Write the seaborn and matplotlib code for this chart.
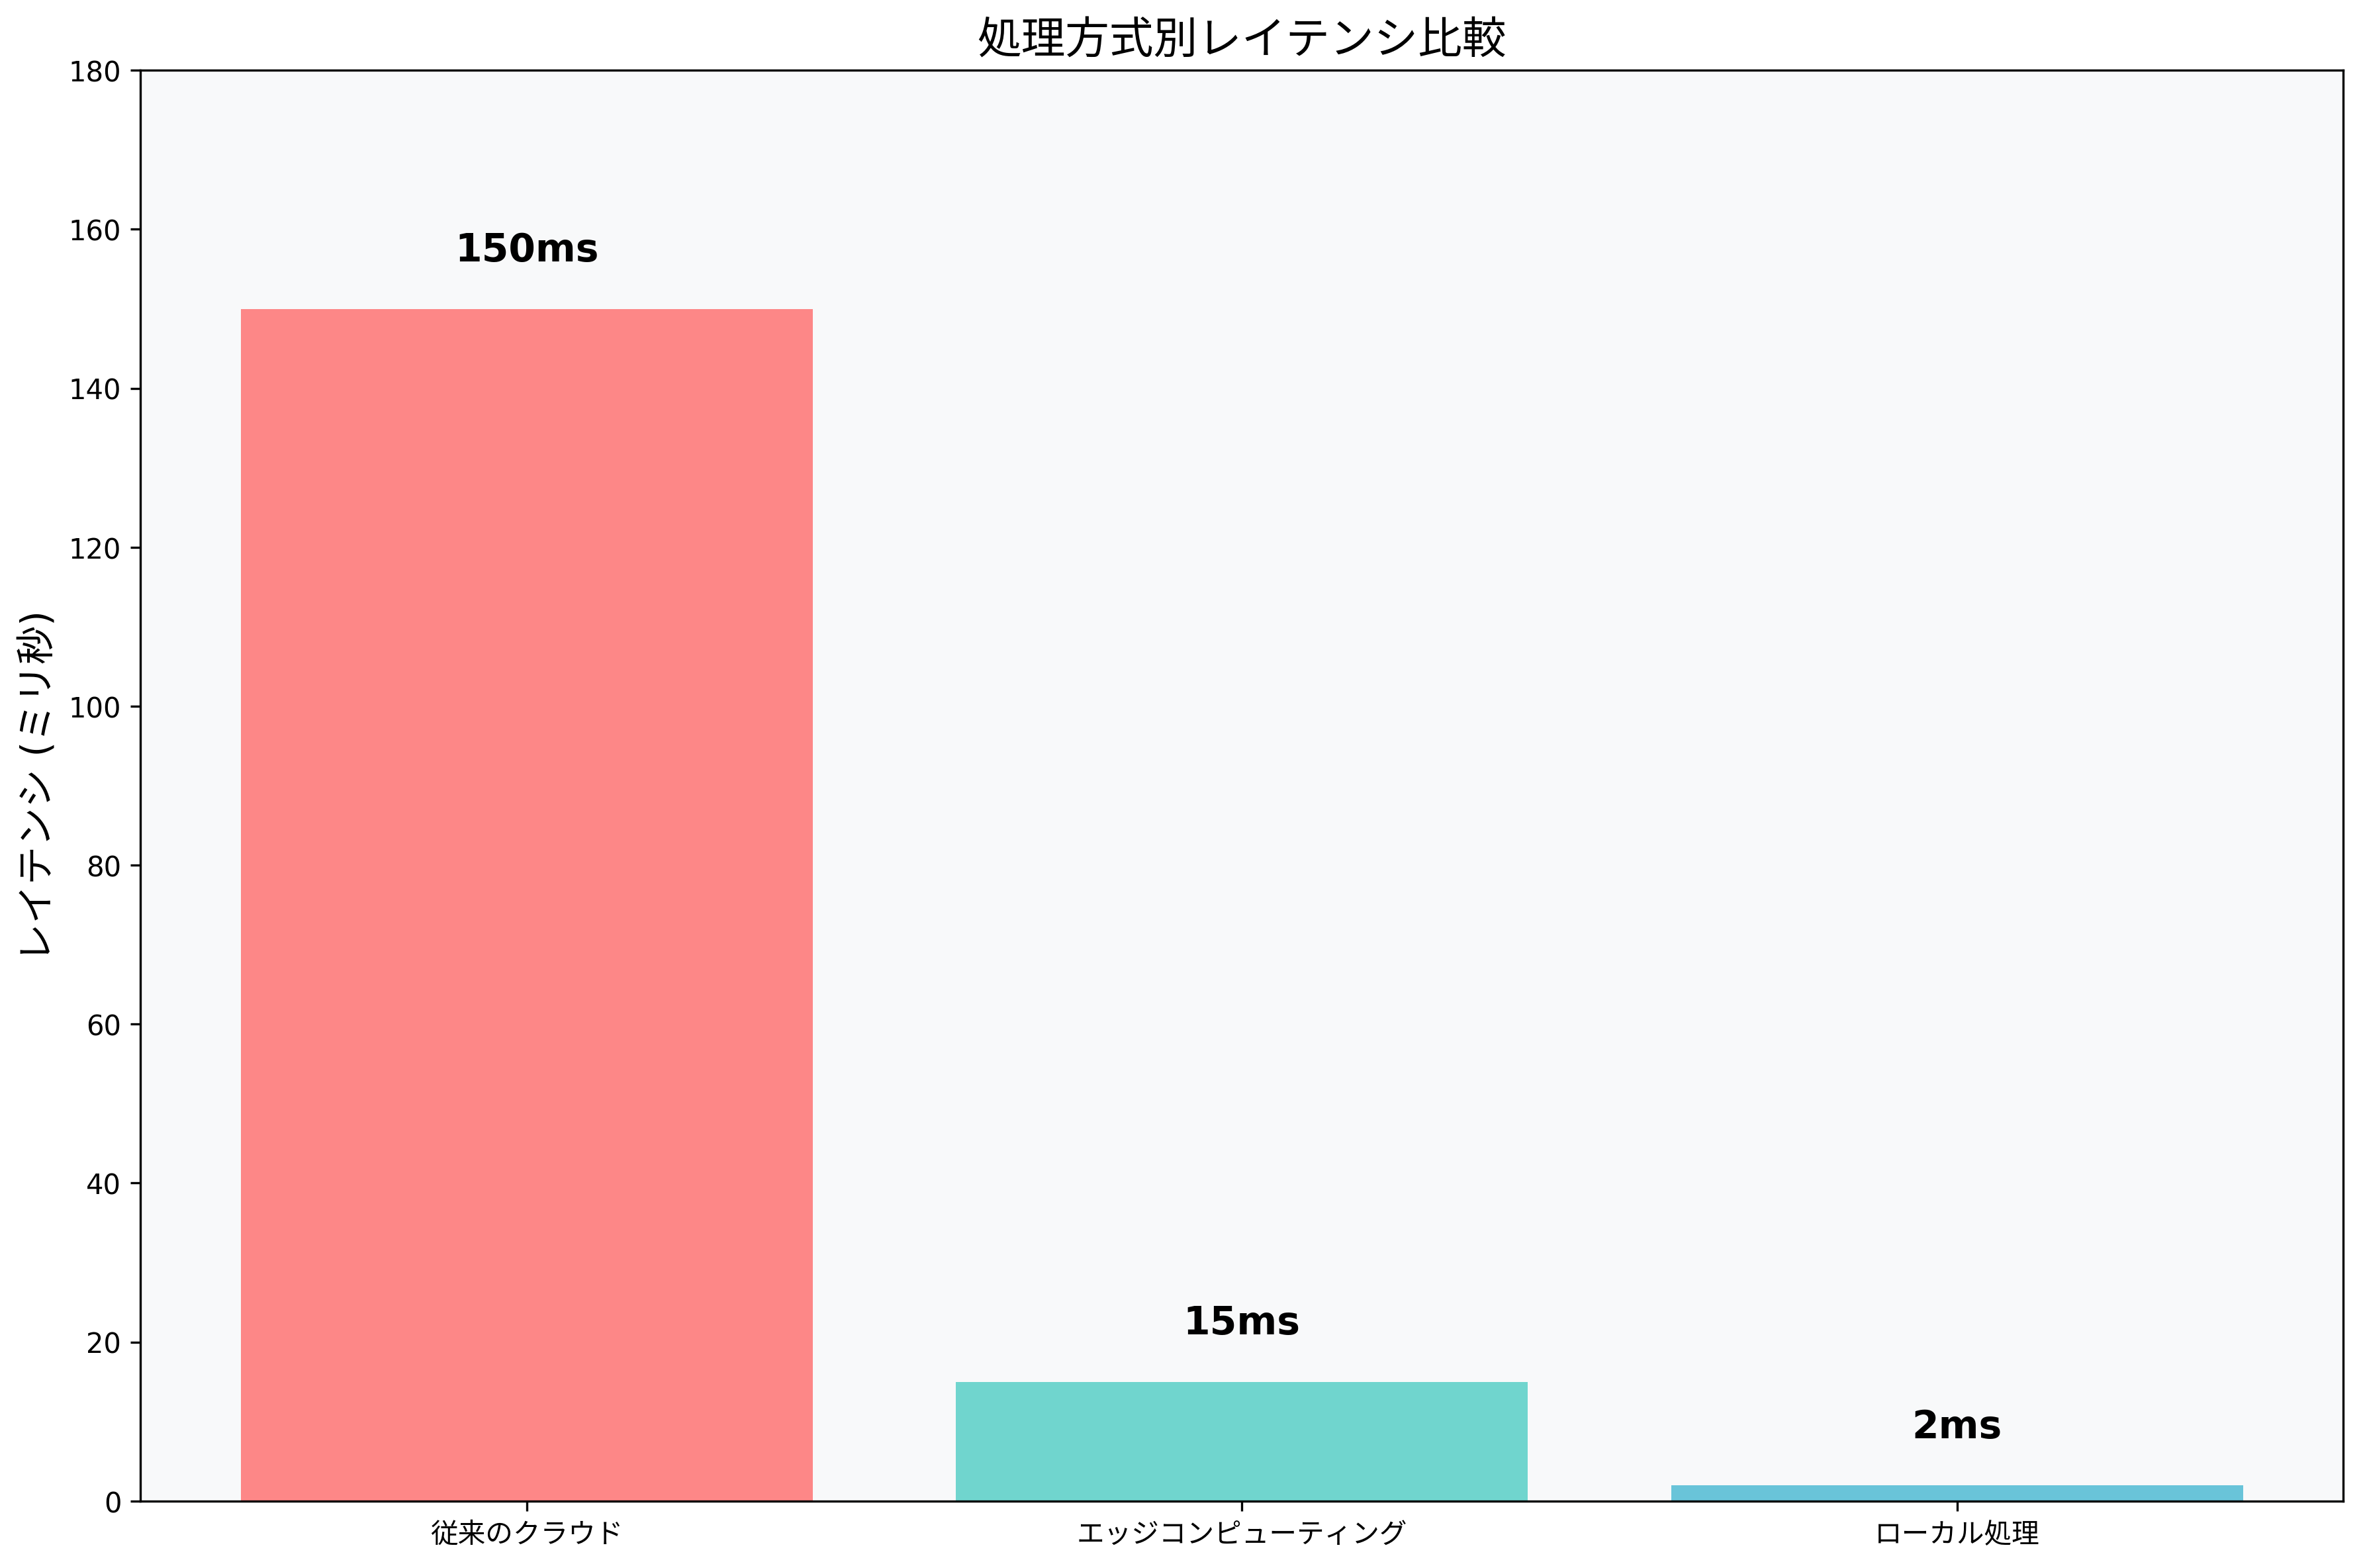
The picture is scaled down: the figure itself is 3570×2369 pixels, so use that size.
import seaborn as sns
import pandas as pd
import matplotlib.pyplot as plt

methods = ['従来のクラウド', 'エッジコンピューティング', 'ローカル処理']
latency_ms = [150, 15, 2]
bar_colors = ['#FF6B6B', '#4ECDC4', '#45B7D1']

plt.rcParams['font.family'] = ['DejaVu Sans', 'Noto Sans CJK JP']

df = pd.DataFrame({'method': methods, 'latency': latency_ms})

fig, ax = plt.subplots(figsize=(12, 8))
ax.set_facecolor('#F8F9FA')
sns.barplot(data=df, x='method', y='latency', hue='method',
            palette=bar_colors, alpha=0.8, width=0.8, saturation=1,
            legend=False, ax=ax)

for i, v in enumerate(latency_ms):
    ax.text(i, v + 5, f'{v}ms', ha='center', va='bottom',
            fontsize=14, fontweight='bold')

ax.set_xlim(-0.54, 2.54)
ax.set_ylim(0, 180)
ax.set_xlabel('')
ax.set_ylabel('レイテンシ (ミリ秒)', fontsize=14)
ax.set_title('処理方式別レイテンシ比較', fontsize=16)

plt.tight_layout()
plt.savefig('out.png', dpi=300, bbox_inches='tight')
